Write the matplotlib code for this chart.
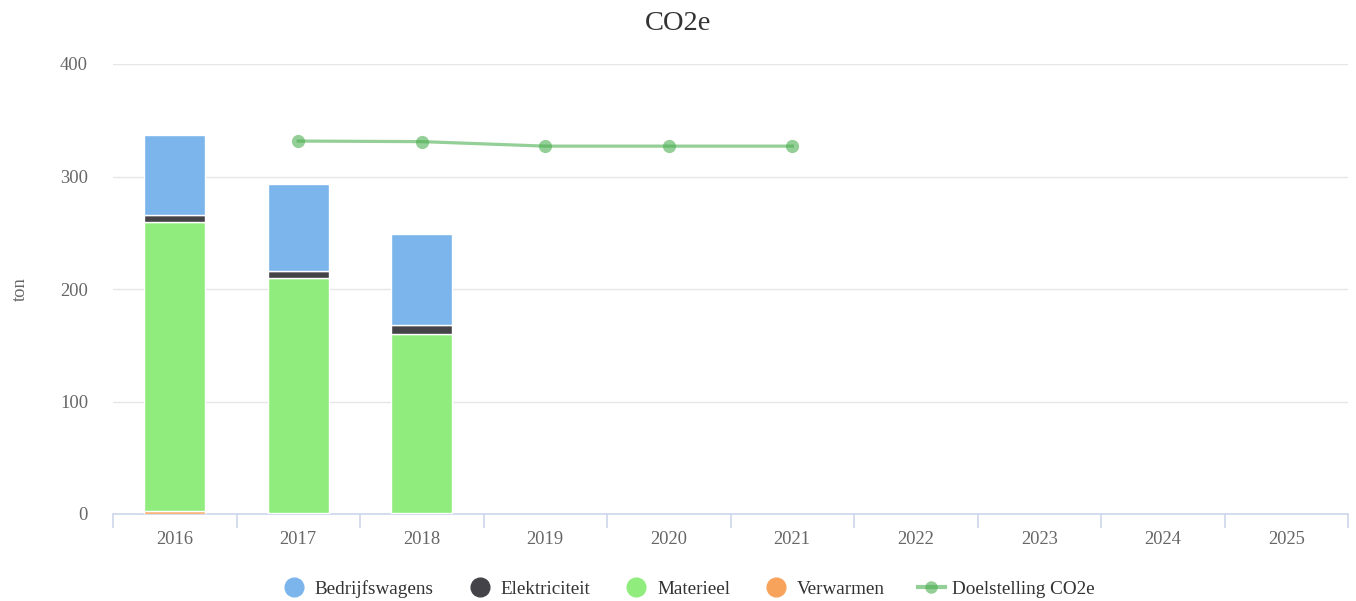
import numpy as np
import matplotlib.pyplot as plt
from matplotlib.lines import Line2D

plt.rcParams['font.family'] = ['Liberation Serif', 'DejaVu Serif']

years = ['2016', '2017', '2018', '2019', '2020', '2021', '2022', '2023', '2024', '2025']
verwarmen = [2.5, 1, 1, 0, 0, 0, 0, 0, 0, 0]
materieel = [257, 209, 159, 0, 0, 0, 0, 0, 0, 0]
elektriciteit = [6, 6, 8, 0, 0, 0, 0, 0, 0, 0]
bedrijfswagens = [71.5, 77.5, 81, 0, 0, 0, 0, 0, 0, 0]
doel_years = ['2017', '2018', '2019', '2020', '2021']
doelstelling = [331.5, 331, 327, 327, 327]

fig = plt.figure(figsize=(13.56, 6.01), dpi=100)
ax = fig.add_axes([113 / 1356, 1 - 514 / 601, 1235 / 1356, 450 / 601])

x = np.arange(len(years))
w = 0.49
bottom = np.zeros(len(years))
series = [(verwarmen, '#f7a35c'), (materieel, '#90ed7d'),
          (elektriciteit, '#434348'), (bedrijfswagens, '#7cb5ec')]
for vals, col in series:
    v = np.array(vals, dtype=float)
    m = v > 0
    ax.bar(x[m], v[m], w, bottom=bottom[m], color=col, edgecolor='white', linewidth=1, zorder=3)
    bottom += v

dx = [years.index(y) for y in doel_years]
ax.plot(dx, doelstelling, color='#4caf50', alpha=0.6, lw=2.3, zorder=4,
        marker='o', markersize=9.5, markeredgewidth=0, markerfacecolor='#4caf50')

ax.set_xlim(-0.5, len(years) - 0.5)
ax.set_ylim(0, 400)
ax.set_yticks([0, 100, 200, 300, 400])
ax.grid(axis='y', color='#e6e6e6', lw=1, zorder=0)
ax.set_axisbelow(True)
for s in ['top', 'right', 'left']:
    ax.spines[s].set_visible(False)
ax.spines['bottom'].set_color('#ccd6eb')
ax.spines['bottom'].set_linewidth(1.2)

ax.set_xticks(x)
ax.set_xticklabels(years)
ax.set_xticks(np.arange(len(years) + 1) - 0.5, minor=True)
ax.tick_params(axis='x', which='major', length=0, pad=12, labelsize=13.3, labelcolor='#666666')
ax.tick_params(axis='x', which='minor', length=10, color='#ccd6eb', width=1.2)
ax.tick_params(axis='y', length=0, pad=18, labelsize=13.3, labelcolor='#666666')

ax.set_ylabel('ton', color='#666666', fontsize=13.3, labelpad=22)
fig.text(0.5, 1 - 24 / 601, 'CO2e', ha='center', va='center', fontsize=20.5, color='#333333')

handles = [
    Line2D([], [], ls='none', marker='o', markersize=13.5, color='#7cb5ec'),
    Line2D([], [], ls='none', marker='o', markersize=13.5, color='#434348'),
    Line2D([], [], ls='none', marker='o', markersize=13.5, color='#90ed7d'),
    Line2D([], [], ls='none', marker='o', markersize=13.5, color='#f7a35c'),
    Line2D([], [], color='#4caf50', alpha=0.6, lw=3, marker='o', markersize=9, markeredgewidth=0),
]
labels = ['Bedrijfswagens', 'Elektriciteit', 'Materieel', 'Verwarmen', 'Doelstelling CO2e']
fig.legend(handles, labels, loc='center', bbox_to_anchor=(687.5 / 1356, 1 - 589 / 601), ncol=5,
           frameon=False, fontsize=13.8, handlelength=1.4, handletextpad=0.39,
           columnspacing=1.7, labelcolor='#333333')

fig.savefig('out.png', dpi=100)
